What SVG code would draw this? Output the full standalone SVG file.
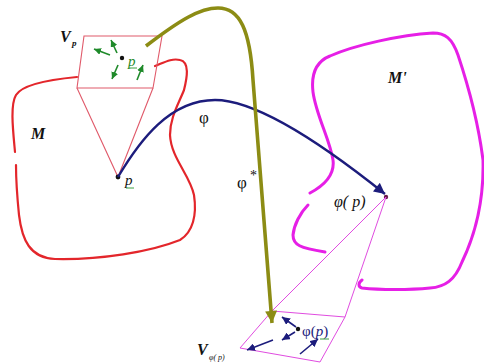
<svg xmlns="http://www.w3.org/2000/svg" width="484" height="364" viewBox="0 0 484 364">
<style>
.red{fill:none;stroke:#e3262b;stroke-width:2.2;stroke-linecap:round}
.thinred{fill:none;stroke:#e05a6a;stroke-width:1.1}
.mag{fill:none;stroke:#e61fe6;stroke-width:3;stroke-linecap:round}
.thinmag{fill:none;stroke:#e04ce0;stroke-width:1}
.blue{fill:none;stroke:#1c1c7c;stroke-width:2.4}
.olive{fill:none;stroke:#8c8c14;stroke-width:3.6}
.garr{fill:none;stroke:#1f8a2a;stroke-width:1.6}
.narr{fill:none;stroke:#1c1c7c;stroke-width:1.6}
.lab{font-family:"Liberation Serif",serif;font-style:italic;font-weight:bold;fill:#111}
.phi{font-family:"Liberation Serif",serif;fill:#111}
.sq{fill:none;stroke:#3aa040;stroke-width:1}
</style>
<defs>
<marker id="ab" viewBox="0 0 10 10" refX="10" refY="5" markerWidth="13" markerHeight="11" orient="auto" markerUnits="userSpaceOnUse">
<path d="M0,0 L10,5 L0,10 Z" fill="#1c1c7c"/></marker>
<marker id="ao" viewBox="0 0 10 10" refX="10" refY="5" markerWidth="13" markerHeight="12" orient="auto" markerUnits="userSpaceOnUse">
<path d="M0,0 L10,5 L0,10 Z" fill="#8c8c14"/></marker>
<marker id="ag" viewBox="0 0 10 10" refX="10" refY="5" markerWidth="7" markerHeight="7" orient="auto" markerUnits="userSpaceOnUse">
<path d="M0,0 L10,5 L0,10 Z" fill="#1f8a2a"/></marker>
<marker id="an" viewBox="0 0 10 10" refX="10" refY="5" markerWidth="8" markerHeight="8" orient="auto" markerUnits="userSpaceOnUse">
<path d="M0,0 L10,5 L0,10 Z" fill="#1c1c7c"/></marker>
</defs>

<g id="M">
<path class="red" d="M155,66 C165,62 172,58 180,60 C190,62 187,78 184,90 C178,105 170,118 170,135 C171,158 190,175 194,195 C197,215 193,232 180,240 C150,252 100,260 55,259 C30,258 22,240 19,215 C17,195 16,180 16,165"/>
<path class="red" d="M15,152 C13,130 10,105 16,95 C22,85 45,80 77,77"/>
<text class="lab" x="31" y="139" font-size="16">M</text>
</g>

<g id="Vp">
<path class="thinred" d="M84,36 L162,36 L153,88 L77,88 Z"/>
<path class="thinred" d="M77,88 L118,177 L153,88"/>
<circle cx="122" cy="58" r="2.2" fill="#111"/>
<path class="garr" marker-end="url(#ag)" d="M110,55 L94,49"/>
<path class="garr" marker-end="url(#ag)" d="M117,53 L111,40"/>
<path class="garr" marker-end="url(#ag)" d="M118,65 L112,79"/>
<path class="garr" marker-end="url(#ag)" d="M137,80 L143,65"/>
<text class="phi" x="128" y="66" font-size="15" font-style="italic" style="fill:#1f8a2a">p</text>
<path class="sq" d="M129,68 L137,68"/>
<text class="lab" x="60" y="42" font-size="16">V</text>
<text class="lab" x="72" y="46" font-size="9">p</text>
</g>

<g id="p">
<circle cx="118" cy="177" r="2.4" fill="#111"/>
<text class="phi" x="125" y="185" font-size="15" font-style="italic">p</text>
<path class="sq" d="M126,188 L134,188"/>
</g>

<g id="Mprime">
<path class="mag" d="M310,193 C325,185 335,175 333,160 C330,140 316,115 313,92 C311,75 315,62 330,56 C355,45 400,35 433,33 C445,33 452,38 458,55 C468,85 478,120 483,160 C484,200 475,235 462,262 C455,280 445,287 430,288 C410,290 380,290 362,288 C358,287 358,283 362,280"/>
<path class="mag" d="M308,205 C300,213 294,225 293,235 C293,245 300,248 325,252"/>
<text class="lab" x="388" y="83" font-size="16">M'</text>
</g>

<g id="phip">
<circle cx="386" cy="197" r="2.2" fill="#6a1a4a"/>
<text class="phi" x="334" y="207" font-size="16" font-style="italic">φ( p)</text>
</g>

<g id="Vphip">
<path class="thinmag" d="M272,311 L345,317 L320,362 L240,348 Z"/>
<path class="thinmag" d="M386,197 L272,311 M386,197 L345,317"/>
<circle cx="298" cy="329" r="2.2" fill="#111"/>
<path class="narr" marker-end="url(#an)" d="M296,327 L282,317"/>
<path class="narr" marker-end="url(#an)" d="M295,332 L282,340"/>
<path class="narr" marker-end="url(#an)" d="M273,340 L247,350"/>
<path class="narr" marker-end="url(#an)" d="M300,354 L318,339"/>
<text class="phi" x="302" y="336" font-size="15" style="fill:#1c1c7c">φ(<tspan font-style="italic">p</tspan>)</text>
<path class="sq" d="M320,339 L329,339"/>
<text class="lab" x="197" y="355" font-size="16">V</text>
<text class="phi" x="209" y="360" font-size="8" font-style="italic">φ( p)</text>
</g>

<g id="connectors">
<path class="blue" marker-end="url(#ab)" d="M118,177 C140,140 170,100 215,100 C260,100 330,150 385,194"/>
<path class="olive" marker-end="url(#ao)" d="M146,46 C180,20 200,8 218,8 C240,8 250,30 253,80 C258,150 265,230 272,323"/>
<text class="phi" x="199" y="123" font-size="17">φ</text>
<text class="phi" x="237" y="188" font-size="17">φ</text>
<text class="phi" x="250" y="180" font-size="14">*</text>
</g>
</svg>
